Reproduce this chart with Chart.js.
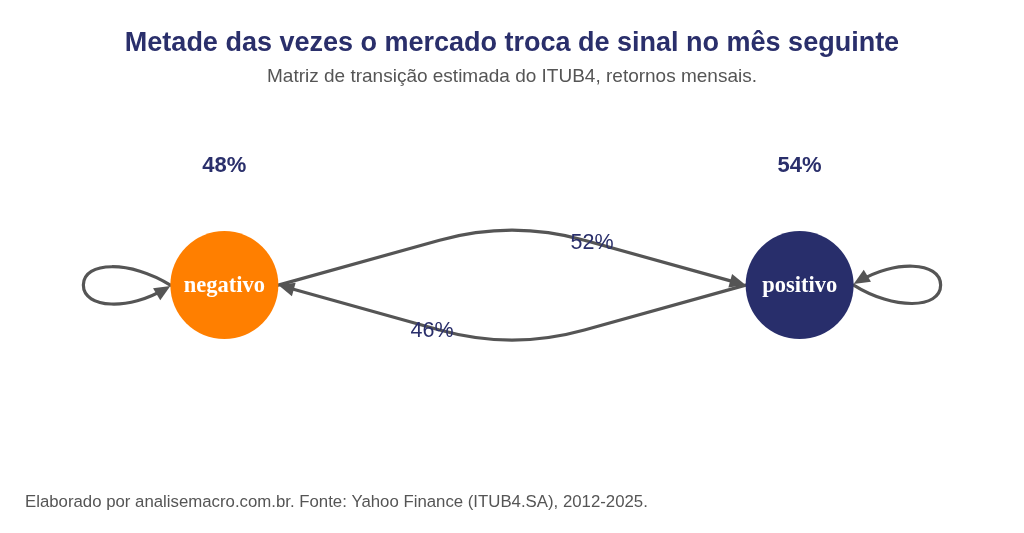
<!DOCTYPE html>
<html lang="pt-BR">
<head>
<meta charset="utf-8">
<title>Matriz de transição ITUB4</title>
<script src="https://cdn.jsdelivr.net/npm/chart.js@4.4.1/dist/chart.umd.min.js"></script>
<style>
  html, body { margin: 0; padding: 0; background: #fff; }
  #grafo-wrap { width: 1024px; height: 533px; }
</style>
</head>
<body>
<div id="grafo-wrap"><canvas id="grafo"></canvas></div>
<script>
// estados da cadeia e probabilidades estimadas (%)
const estados = ["negativo", "positivo"];
const permanencia = [48, 54];   // P(i -> i)
const troca = [52, 46];         // P(negativo -> positivo), P(positivo -> negativo)

const titulo = "Metade das vezes o mercado troca de sinal no mês seguinte";
const subtitulo = "Matriz de transição estimada do ITUB4, retornos mensais.";
const rodape = "Elaborado por analisemacro.com.br. Fonte: Yahoo Finance (ITUB4.SA), 2012-2025.";

const AZUL = "#2a2f6b";
const CINZA = "#555555";
const RAIO = 54;

function pontaSeta(ctx, de, ate) {
  const ang = Math.atan2(ate.y - de.y, ate.x - de.x);
  const comp = 16, larg = 7;
  ctx.beginPath();
  ctx.moveTo(ate.x, ate.y);
  ctx.lineTo(ate.x - comp * Math.cos(ang) + larg * Math.sin(ang), ate.y - comp * Math.sin(ang) - larg * Math.cos(ang));
  ctx.lineTo(ate.x - comp * Math.cos(ang) - larg * Math.sin(ang), ate.y - comp * Math.sin(ang) + larg * Math.cos(ang));
  ctx.closePath();
  ctx.fill();
}

// aresta curva: reta ate perto do ponto de controle, canto arredondado, reta ate o destino
function arestaCurva(ctx, p0, p1, dir) {
  const c = { x: (p0.x + p1.x) / 2, y: (p0.y + p1.y) / 2 + dir * 65 };
  const f = 0.69;
  const a = { x: p0.x + (c.x - p0.x) * f, y: p0.y + (c.y - p0.y) * f };
  const b = { x: p1.x + (c.x - p1.x) * f, y: p1.y + (c.y - p1.y) * f };
  const ang = Math.atan2(p1.y - b.y, p1.x - b.x);
  const fim = { x: p1.x - 12 * Math.cos(ang), y: p1.y - 12 * Math.sin(ang) };
  ctx.beginPath();
  ctx.moveTo(p0.x, p0.y);
  ctx.lineTo(a.x, a.y);
  ctx.quadraticCurveTo(c.x, c.y, b.x, b.y);
  ctx.lineTo(fim.x, fim.y);
  ctx.stroke();
  pontaSeta(ctx, b, p1);
}

// laço de um estado para ele mesmo; lado -1 = esquerda, +1 = direita
function laco(ctx, cx, cy, lado) {
  const p = { x: cx + lado * RAIO, y: cy };
  const xm = cx + lado * (RAIO + 40);
  const xl = cx + lado * (RAIO + 87);
  const s = lado; // esquerda: sai por cima, volta por baixo; direita: o contrario
  ctx.beginPath();
  ctx.moveTo(p.x, p.y);
  ctx.bezierCurveTo(xm, cy + s * 25, xl, cy + s * 24, xl, cy);
  ctx.bezierCurveTo(xl, cy - s * 24, xm, cy - s * 25, p.x + lado * 6, cy - s * 4);
  ctx.stroke();
  pontaSeta(ctx, { x: xm, y: cy - s * 25 }, { x: p.x, y: cy - s * 1 });
}

const grafoPlugin = {
  id: "grafoMarkov",
  beforeDatasetsDraw(chart) {
    const ctx = chart.ctx;
    const nos = chart.getDatasetMeta(0).data;
    const [neg, pos] = nos;
    ctx.save();
    ctx.strokeStyle = CINZA;
    ctx.fillStyle = CINZA;
    ctx.lineWidth = 3.2;
    ctx.lineCap = "round";
    ctx.lineJoin = "round";
    arestaCurva(ctx, { x: neg.x + RAIO, y: neg.y }, { x: pos.x - RAIO, y: pos.y }, -1);
    arestaCurva(ctx, { x: pos.x - RAIO, y: pos.y }, { x: neg.x + RAIO, y: neg.y }, 1);
    laco(ctx, neg.x, neg.y, -1);
    laco(ctx, pos.x, pos.y, 1);
    ctx.restore();
  },
  afterDatasetsDraw(chart) {
    const ctx = chart.ctx;
    const nos = chart.getDatasetMeta(0).data;
    const meio = (nos[0].x + nos[1].x) / 2;
    ctx.save();
    ctx.textAlign = "center";
    ctx.textBaseline = "middle";
    // nomes dos estados
    ctx.fillStyle = "#ffffff";
    ctx.font = "bold 22.5px 'Liberation Serif', 'Times New Roman', serif";
    nos.forEach((n, i) => ctx.fillText(estados[i], n.x, n.y + 1));
    // probabilidade de permanecer
    ctx.fillStyle = AZUL;
    ctx.font = "bold 22px 'Liberation Sans', Arial, sans-serif";
    nos.forEach((n, i) => ctx.fillText(permanencia[i] + "%", n.x, n.y - 119));
    // probabilidade de trocar
    ctx.font = "21.5px 'Liberation Sans', Arial, sans-serif";
    ctx.fillText(troca[0] + "%", meio + 80, nos[0].y - 42);
    ctx.fillText(troca[1] + "%", meio - 80, nos[0].y + 46);
    // rodape
    ctx.textAlign = "left";
    ctx.fillStyle = CINZA;
    ctx.font = "16.8px 'Liberation Sans', Arial, sans-serif";
    ctx.fillText(rodape, 25, 502);
    ctx.restore();
  }
};

new Chart(document.getElementById("grafo"), {
  type: "scatter",
  data: {
    datasets: [{
      label: "estados",
      data: estados.map((e, i) => ({ x: i, y: 0 })),
      pointRadius: RAIO,
      pointHoverRadius: RAIO,
      pointBorderWidth: 0,
      backgroundColor: ["#ff7f00", "#282e6b"]
    }]
  },
  options: {
    responsive: true,
    maintainAspectRatio: false,
    animation: false,
    events: [],
    layout: { autoPadding: false, padding: { top: 0, bottom: 60, left: 0, right: 0 } },
    scales: {
      x: { display: false, min: -0.39, max: 1.39 },
      y: { display: false, min: -1, max: 1 }
    },
    plugins: {
      legend: { display: false },
      tooltip: { enabled: false },
      title: {
        display: true,
        text: titulo,
        color: AZUL,
        font: { family: "'Liberation Sans', Arial, sans-serif", size: 27, weight: "bold" },
        padding: { top: 27, bottom: 6 }
      },
      subtitle: {
        display: true,
        text: subtitulo,
        color: CINZA,
        font: { family: "'Liberation Sans', Arial, sans-serif", size: 19 },
        padding: { top: 0, bottom: 9 }
      }
    }
  },
  plugins: [grafoPlugin]
});
</script>
</body>
</html>
